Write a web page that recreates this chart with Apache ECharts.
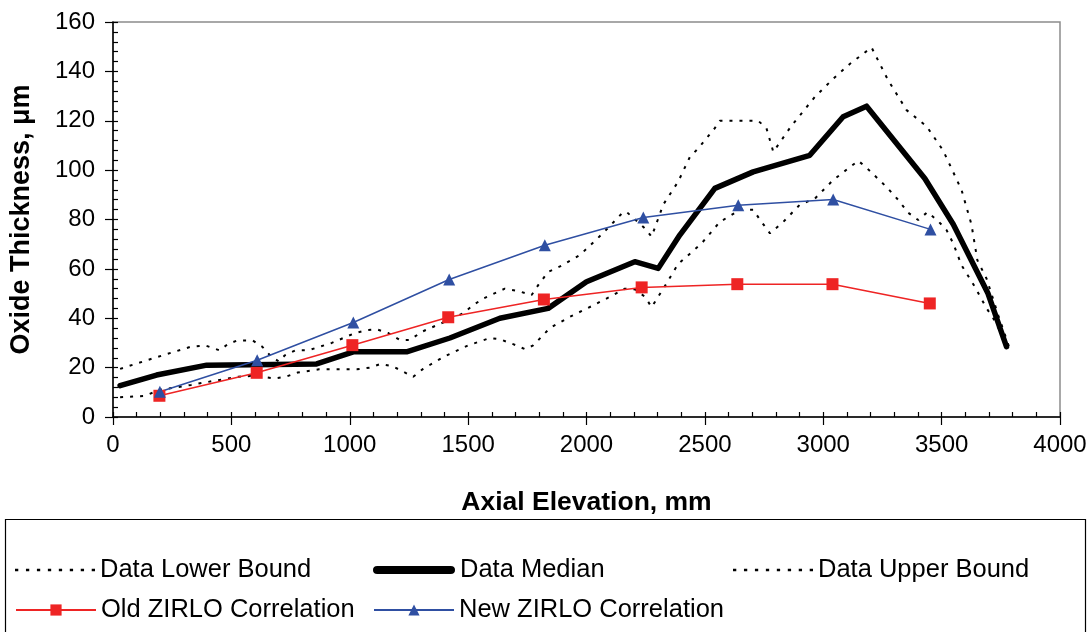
<!DOCTYPE html>
<html>
<head>
<meta charset="utf-8">
<script src="https://cdn.jsdelivr.net/npm/echarts@6/dist/echarts.min.js"></script>
<style>
html,body{margin:0;padding:0;background:#fff;}
#c{width:1091px;height:632px;}
</style>
</head>
<body>
<div id="c"></div>
<script>
// ---- data ----
var xTicks = [0, 500, 1000, 1500, 2000, 2500, 3000, 3500, 4000];
var yTicks = [0, 20, 40, 60, 80, 100, 120, 140, 160];

var lowerX = [30,130,200,330,430,530,580,630,680,730,780,870,1030,1085,1130,1180,1268,1310,1400,1500,1592,1634,1690,1740,1775,1845,1930,2030,2113,2162,2204,2247,2275,2331,2387,2423,2486,2563,2650,2704,2732,2775,2831,2901,2965,3042,3148,3190,3267,3317,3359,3401,3440,3484,3521,3549,3584,3640,3690,3718,3790];
var lowerY = [8,8.5,11,13,14.7,16.3,16.6,16.3,15.6,16.3,18,19.3,19.3,20,21.5,20.6,16.3,19.5,24.5,29,32,31.5,29.5,27.5,29,36,40.6,45.3,49.4,52,51.7,48.7,44.5,53,62,65,70.3,79,84,84,80,74.4,79,86,88.5,96,103.8,100.3,93.2,87.9,82.7,79.8,83,79.5,75.7,70.3,61.5,52.8,44,40,27];

var medianX = [30,184,396,860,1015,1240,1423,1634,1838,2000,2204,2303,2394,2542,2704,2943,3084,3183,3429,3549,3696,3774];
var medianY = [12.7,17,21,21.5,26.4,26.4,32,40,44,54.8,62.9,60.2,73.7,92.6,99.3,106,121.6,125.9,96.6,78.1,50,28.5];

var upperX = [30,170,330,390,450,485,525,590,630,663,700,726,770,825,874,924,1022,1071,1114,1163,1212,1254,1304,1402,1479,1521,1564,1655,1712,1768,1796,1838,1888,1930,1972,2043,2085,2120,2155,2170,2247,2275,2324,2387,2437,2472,2542,2563,2725,2760,2789,2866,2965,3042,3112,3204,3274,3352,3436,3506,3584,3626,3651,3690,3740,3790];
var upperY = [19.5,23.8,28.5,29,27,29.5,31,31,28.5,25,22.5,25,27,27,28.5,30,34,35.2,35.5,34,31.2,31.2,34.5,38.6,42,45.3,48,52,51,49.4,53.4,58.8,61,63.3,65.6,72,76,79.5,83,83,76.4,73,86,95.3,105.4,108.8,117,120,120,117,107.4,118,129.7,137,143,149.7,136.4,124.3,117.8,108,92,78,63.5,56,41,27];

var oldX = [196,607,1011,1416,1820,2233,2637,3039,3450];
var oldY = [8.6,17.9,29.1,40.4,47.6,52.5,53.8,53.8,46];

var newX = [198,609,1015,1420,1824,2240,2641,3042,3453];
var newY = [10.2,23,38.3,55.7,69.6,80.8,85.8,88.1,76];

var names = ['Data Lower Bound','Data Median','Data Upper Bound','Old ZIRLO Correlation','New ZIRLO Correlation'];

function zip(xs, ys){ return xs.map(function(x,i){ return [x, ys[i]]; }); }

var FONT = '"Liberation Sans", Arial, sans-serif';
var chart = echarts.init(document.getElementById('c'));

var gridPos = {left:113, right:31, top:22, bottom:215};

// legend sample icons
var dotted = 'path://';
for (var k = 0; k < 8; k++) { dotted += 'M' + (k*10+2) + ',0h3v2.4h-3z'; }
var thick = 'path://M4,0h70a4,4 0 0 1 0,8h-70a4,4 0 0 1 0,-8z';

function legendAt(name, left, top, icon, w, h){
  var item = {name:name};
  if (icon) item.icon = icon;
  return {
    data:[item], left:left, top:top, orient:'horizontal',
    itemWidth:w || 80, itemHeight:h || 14, itemGap:0, padding:0,
    symbolKeepAspect:false,
    textStyle:{fontFamily:FONT, fontSize:25.5, color:'#000'}
  };
}

var option = {
  animation:false,
  backgroundColor:'#fff',
  grid: Object.assign({show:true, borderColor:'#8c8c8c', borderWidth:1.5, backgroundColor:'transparent'}, gridPos),
  xAxis:[{
    type:'value', min:xTicks[0], max:xTicks[xTicks.length-1], interval:500,
    name:'Axial Elevation, mm', nameLocation:'middle', nameGap:72,
    nameTextStyle:{fontFamily:FONT, fontSize:26.5, fontWeight:'bold', color:'#000'},
    axisLine:{show:true, onZero:false, lineStyle:{color:'#000', width:1.5}},
    axisTick:{show:true, length:8, lineStyle:{color:'#000', width:1.2}},
    axisLabel:{margin:16, fontFamily:FONT, fontSize:24, color:'#000', formatter:function(v){ return String(v); }},
    splitLine:{show:false}
  },{
    type:'value', min:xTicks[0], max:xTicks[xTicks.length-1], interval:500, position:'bottom',
    axisLine:{show:false}, axisLabel:{show:false}, splitLine:{show:false},
    axisTick:{show:true, inside:true, length:5, lineStyle:{color:'#000', width:1.2}},
    minorTick:{show:true, splitNumber:5, length:5, lineStyle:{color:'#000', width:1.2}}
  }],
  yAxis:[{
    type:'value', min:yTicks[0], max:yTicks[yTicks.length-1], interval:20,
    name:'Oxide Thickness, \u03bcm', nameLocation:'middle', nameGap:78,
    nameTextStyle:{fontFamily:FONT, fontSize:27, fontWeight:'bold', color:'#000'},
    axisLine:{show:true, onZero:false, lineStyle:{color:'#000', width:1.5}},
    axisTick:{show:true, length:8, lineStyle:{color:'#000', width:1.2}},
    axisLabel:{margin:18, fontFamily:FONT, fontSize:24, color:'#000', formatter:function(v){ return String(v); }},
    splitLine:{show:false}
  },{
    type:'value', min:yTicks[0], max:yTicks[yTicks.length-1], interval:20, position:'left',
    axisLine:{show:false}, axisLabel:{show:false}, splitLine:{show:false},
    axisTick:{show:true, inside:true, length:5, lineStyle:{color:'#000', width:1.2}},
    minorTick:{show:true, splitNumber:5, length:5, lineStyle:{color:'#000', width:1.2}}
  }],
  legend:[
    legendAt(names[0], 15, 557, dotted, 80, 2.4),
    legendAt(names[1], 373, 557, thick, 82, 8),
    legendAt(names[2], 733, 557, dotted, 80, 2.4),
    legendAt(names[3], 15, 597),
    legendAt(names[4], 373, 597)
  ],
  graphic:[{
    type:'rect', left:3, top:517, silent:true,
    shape:{width:1080, height:130},
    style:{fill:'none', stroke:'#000', lineWidth:1.2}
  }],
  series:[
    {name:names[0], type:'line', data:zip(lowerX, lowerY), symbol:'none', z:3,
     lineStyle:{color:'#000', width:2, type:[3,7]}, itemStyle:{color:'#000'}},
    {name:names[1], type:'line', data:zip(medianX, medianY), symbol:'none', z:4,
     lineStyle:{color:'#000', width:5.5, cap:'round', join:'round'}, itemStyle:{color:'#000'}},
    {name:names[2], type:'line', data:zip(upperX, upperY), symbol:'none', z:3,
     lineStyle:{color:'#000', width:2, type:[3,7]}, itemStyle:{color:'#000'}},
    {name:names[3], type:'line', data:zip(oldX, oldY), symbol:'rect', symbolSize:12, z:5,
     lineStyle:{color:'#ee2424', width:1.5}, itemStyle:{color:'#ee2424'}},
    {name:names[4], type:'line', data:zip(newX, newY), symbol:'triangle', symbolSize:12, z:5,
     lineStyle:{color:'#2f4fa2', width:1.5}, itemStyle:{color:'#2f4fa2'}}
  ]
};
chart.setOption(option);
</script>
</body>
</html>
